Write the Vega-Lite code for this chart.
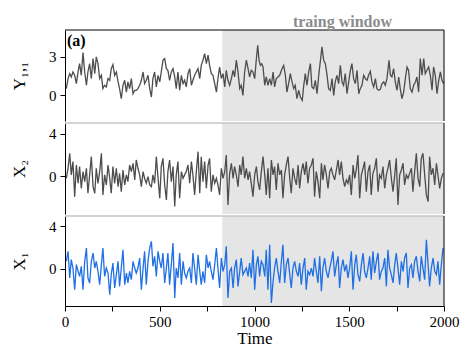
{
"$schema": "https://vega.github.io/schema/vega-lite/v6.json",
"padding": {"left": 10, "top": 13, "right": 5, "bottom": 0},
"spacing": 0,
"config": {
 "view": {"stroke": null},
 "font": "Liberation Serif",
 "axis": {"labelFont": "Liberation Serif", "titleFont": "Liberation Serif", "labelColor": "#000", "titleColor": "#000", "domainColor": "#000", "tickColor": "#000", "grid": false, "labelFontSize": 15, "titleFontSize": 17, "titleFontWeight": "normal", "tickSize": 5, "labelPadding": 4, "titlePadding": 20, "zindex": 1}
},
"datasets": {
 "y11": [
  {"t":7,"v":0.50},{"t":16,"v":1.28},{"t":25,"v":1.67},{"t":33,"v":1.41},{"t":42,"v":1.80},{"t":51,"v":1.54},{"t":60,"v":0.89},{"t":69,"v":1.80},{"t":77,"v":2.45},{"t":86,"v":1.54},{"t":95,"v":3.32},{"t":104,"v":1.80},{"t":113,"v":0.76},{"t":121,"v":1.80},{"t":130,"v":2.45},{"t":139,"v":1.28},{"t":148,"v":2.85},{"t":157,"v":1.67},{"t":165,"v":2.98},{"t":174,"v":2.45},{"t":183,"v":1.28},{"t":192,"v":1.54},{"t":200,"v":0.50},{"t":209,"v":0.76},{"t":218,"v":0.63},{"t":227,"v":1.28},{"t":236,"v":1.15},{"t":244,"v":2.06},{"t":253,"v":2.38},{"t":262,"v":1.54},{"t":271,"v":1.80},{"t":280,"v":1.02},{"t":288,"v":0.50},{"t":297,"v":-0.29},{"t":306,"v":0.76},{"t":315,"v":1.15},{"t":324,"v":0.23},{"t":332,"v":1.02},{"t":341,"v":0.50},{"t":350,"v":1.28},{"t":359,"v":0.10},{"t":368,"v":0.37},{"t":376,"v":0.37},{"t":385,"v":0.50},{"t":394,"v":0.76},{"t":403,"v":1.15},{"t":412,"v":1.80},{"t":420,"v":0.89},{"t":429,"v":1.15},{"t":438,"v":1.54},{"t":447,"v":0.50},{"t":456,"v":-0.16},{"t":464,"v":1.28},{"t":473,"v":1.80},{"t":482,"v":0.63},{"t":491,"v":1.54},{"t":500,"v":1.02},{"t":508,"v":1.80},{"t":517,"v":2.72},{"t":526,"v":2.85},{"t":535,"v":2.06},{"t":543,"v":1.93},{"t":552,"v":1.15},{"t":561,"v":1.80},{"t":570,"v":2.06},{"t":579,"v":1.41},{"t":587,"v":0.50},{"t":596,"v":1.80},{"t":605,"v":0.37},{"t":614,"v":1.54},{"t":623,"v":0.89},{"t":631,"v":1.15},{"t":640,"v":0.63},{"t":649,"v":1.67},{"t":658,"v":2.06},{"t":667,"v":0.76},{"t":675,"v":1.15},{"t":684,"v":1.54},{"t":693,"v":1.80},{"t":702,"v":2.06},{"t":711,"v":1.28},{"t":719,"v":2.32},{"t":728,"v":2.72},{"t":737,"v":3.24},{"t":746,"v":2.45},{"t":755,"v":3.11},{"t":763,"v":2.32},{"t":772,"v":1.67},{"t":781,"v":1.54},{"t":790,"v":0.89},{"t":799,"v":0.23},{"t":807,"v":1.28},{"t":816,"v":2.19},{"t":825,"v":1.28},{"t":834,"v":1.67},{"t":843,"v":0.63},{"t":851,"v":1.93},{"t":860,"v":1.15},{"t":869,"v":0.76},{"t":878,"v":1.28},{"t":887,"v":1.93},{"t":895,"v":1.41},{"t":904,"v":2.72},{"t":913,"v":1.80},{"t":922,"v":0.50},{"t":930,"v":0.76},{"t":939,"v":-0.03},{"t":948,"v":1.80},{"t":957,"v":2.72},{"t":966,"v":2.06},{"t":974,"v":1.41},{"t":983,"v":1.93},
  {"t":992,"v":1.80},{"t":1001,"v":1.28},{"t":1010,"v":2.85},{"t":1017,"v":3.89},{"t":1024,"v":2.72},{"t":1031,"v":2.32},{"t":1038,"v":2.45},{"t":1045,"v":2.19},{"t":1054,"v":0.76},{"t":1062,"v":1.41},{"t":1071,"v":0.76},{"t":1080,"v":1.28},{"t":1089,"v":0.76},{"t":1098,"v":1.80},{"t":1106,"v":0.63},{"t":1115,"v":1.28},{"t":1124,"v":1.41},{"t":1133,"v":1.54},{"t":1142,"v":1.93},{"t":1154,"v":2.32},{"t":1163,"v":1.54},{"t":1171,"v":0.23},{"t":1180,"v":0.89},{"t":1189,"v":1.67},{"t":1198,"v":1.02},{"t":1207,"v":0.50},{"t":1215,"v":0.76},{"t":1224,"v":-0.29},{"t":1233,"v":0.37},{"t":1242,"v":-0.16},{"t":1252,"v":-0.42},{"t":1259,"v":0.63},{"t":1268,"v":1.67},{"t":1277,"v":0.76},{"t":1286,"v":1.80},{"t":1295,"v":2.45},{"t":1303,"v":0.63},{"t":1312,"v":0.50},{"t":1321,"v":1.15},{"t":1330,"v":0.10},{"t":1339,"v":1.54},{"t":1347,"v":2.58},{"t":1356,"v":3.76},{"t":1365,"v":2.72},{"t":1374,"v":2.45},{"t":1383,"v":1.54},{"t":1391,"v":0.50},{"t":1400,"v":0.37},{"t":1409,"v":1.28},{"t":1418,"v":-0.03},{"t":1426,"v":1.02},{"t":1435,"v":1.54},{"t":1444,"v":0.89},{"t":1453,"v":2.32},{"t":1462,"v":1.02},{"t":1470,"v":0.76},{"t":1479,"v":1.67},{"t":1488,"v":0.10},{"t":1497,"v":1.02},{"t":1506,"v":1.93},{"t":1514,"v":2.45},{"t":1523,"v":1.28},{"t":1532,"v":0.89},{"t":1541,"v":1.93},{"t":1550,"v":0.10},{"t":1558,"v":0.50},{"t":1567,"v":0.76},{"t":1576,"v":1.54},{"t":1585,"v":1.28},{"t":1594,"v":1.15},{"t":1602,"v":1.54},{"t":1611,"v":1.85},{"t":1620,"v":1.02},{"t":1629,"v":0.63},{"t":1638,"v":1.28},{"t":1646,"v":0.50},{"t":1655,"v":0.37},{"t":1664,"v":0.44},{"t":1673,"v":0.89},{"t":1682,"v":1.02},{"t":1690,"v":0.76},{"t":1699,"v":1.28},{"t":1710,"v":2.72},{"t":1717,"v":1.54},{"t":1725,"v":1.41},{"t":1734,"v":2.06},{"t":1743,"v":1.02},{"t":1752,"v":0.37},{"t":1761,"v":1.41},{"t":1769,"v":0.50},{"t":1778,"v":-0.29},{"t":1787,"v":0.23},{"t":1796,"v":1.28},{"t":1805,"v":2.19},{"t":1813,"v":1.93},{"t":1822,"v":0.50},{"t":1831,"v":0.23},{"t":1840,"v":0.76},{"t":1849,"v":1.02},{"t":1857,"v":1.41},{"t":1866,"v":0.23},{"t":1875,"v":2.85},{"t":1884,"v":1.54},{"t":1893,"v":2.85},{"t":1901,"v":1.67},{"t":1910,"v":1.93},{"t":1919,"v":2.19},{"t":1928,"v":1.54},{"t":1937,"v":0.37},{"t":1945,"v":2.19},{"t":1954,"v":1.54},{"t":1963,"v":0.10},{"t":1972,"v":1.15},{"t":1981,"v":1.80},{"t":1989,"v":1.15},{"t":1998,"v":0.89}
 ],
 "x2": [
  {"t":7,"v":-0.19},{"t":16,"v":0.75},{"t":25,"v":2.16},{"t":33,"v":0.13},{"t":42,"v":1.38},{"t":51,"v":-1.91},{"t":60,"v":1.06},{"t":69,"v":-0.66},{"t":77,"v":0.91},{"t":86,"v":-1.13},{"t":95,"v":0.44},{"t":104,"v":-0.50},{"t":113,"v":0.75},{"t":121,"v":-1.59},{"t":130,"v":0.13},{"t":139,"v":1.84},{"t":148,"v":-0.97},{"t":157,"v":-1.59},{"t":165,"v":0.75},{"t":174,"v":-0.66},{"t":183,"v":0.44},{"t":192,"v":2.16},{"t":200,"v":-1.75},{"t":209,"v":0.13},{"t":218,"v":-0.81},{"t":227,"v":1.06},{"t":236,"v":-0.19},{"t":244,"v":-1.59},{"t":253,"v":0.91},{"t":262,"v":-0.66},{"t":271,"v":0.75},{"t":280,"v":-0.97},{"t":288,"v":0.28},{"t":297,"v":-1.44},{"t":306,"v":0.59},{"t":315,"v":-0.81},{"t":324,"v":0.13},{"t":332,"v":-0.50},{"t":341,"v":1.06},{"t":350,"v":0.44},{"t":359,"v":1.22},{"t":368,"v":-0.34},{"t":376,"v":1.53},{"t":385,"v":0.75},{"t":394,"v":0.13},{"t":403,"v":-0.97},{"t":412,"v":0.44},{"t":420,"v":-0.19},{"t":429,"v":-0.66},{"t":438,"v":-0.03},{"t":447,"v":-0.81},{"t":456,"v":-0.97},{"t":464,"v":0.13},{"t":473,"v":-0.66},{"t":482,"v":1.84},{"t":491,"v":-0.19},{"t":500,"v":-2.06},{"t":508,"v":0.91},{"t":517,"v":1.69},{"t":526,"v":-0.81},{"t":535,"v":-2.22},{"t":543,"v":0.44},{"t":552,"v":1.53},{"t":561,"v":-0.50},{"t":570,"v":0.91},{"t":579,"v":-2.84},{"t":587,"v":0.13},{"t":596,"v":1.38},{"t":605,"v":-2.06},{"t":614,"v":0.44},{"t":623,"v":-0.19},{"t":631,"v":0.13},{"t":640,"v":0.44},{"t":649,"v":1.06},{"t":658,"v":-0.66},{"t":667,"v":1.38},{"t":675,"v":0.13},{"t":684,"v":-1.75},{"t":693,"v":0.44},{"t":702,"v":2.31},{"t":711,"v":-1.59},{"t":719,"v":1.84},{"t":728,"v":-0.50},{"t":737,"v":1.38},{"t":746,"v":-1.13},{"t":755,"v":1.06},{"t":763,"v":1.69},{"t":772,"v":-1.44},{"t":781,"v":0.13},{"t":790,"v":-0.66},{"t":799,"v":-0.19},{"t":807,"v":-0.81},{"t":816,"v":-1.75},{"t":825,"v":0.75},{"t":834,"v":-0.19},{"t":843,"v":0.44},{"t":851,"v":2.00},{"t":860,"v":-2.69},{"t":869,"v":0.28},{"t":878,"v":1.22},{"t":887,"v":-0.19},{"t":895,"v":0.91},{"t":904,"v":0.13},{"t":913,"v":-0.97},{"t":922,"v":1.06},{"t":930,"v":0.13},{"t":939,"v":1.84},{"t":948,"v":-0.19},{"t":957,"v":0.75},{"t":966,"v":-0.34},{"t":974,"v":0.44},{"t":983,"v":-0.66},
  {"t":992,"v":-1.91},{"t":1001,"v":0.13},{"t":1010,"v":0.91},{"t":1018,"v":-0.50},{"t":1027,"v":-1.28},{"t":1036,"v":0.44},{"t":1045,"v":1.84},{"t":1054,"v":0.13},{"t":1062,"v":-1.75},{"t":1071,"v":0.75},{"t":1080,"v":-2.06},{"t":1089,"v":1.53},{"t":1098,"v":0.13},{"t":1106,"v":0.91},{"t":1115,"v":-1.28},{"t":1124,"v":1.22},{"t":1133,"v":0.13},{"t":1142,"v":0.59},{"t":1150,"v":-2.06},{"t":1159,"v":0.13},{"t":1168,"v":1.06},{"t":1177,"v":1.84},{"t":1186,"v":-0.19},{"t":1194,"v":-1.59},{"t":1203,"v":0.75},{"t":1212,"v":-0.19},{"t":1221,"v":-0.81},{"t":1230,"v":1.06},{"t":1238,"v":-1.13},{"t":1247,"v":0.44},{"t":1256,"v":1.22},{"t":1265,"v":0.13},{"t":1273,"v":1.38},{"t":1282,"v":-0.66},{"t":1291,"v":0.75},{"t":1300,"v":1.06},{"t":1309,"v":1.69},{"t":1317,"v":-1.91},{"t":1326,"v":0.44},{"t":1335,"v":-0.50},{"t":1344,"v":-2.06},{"t":1353,"v":1.22},{"t":1361,"v":-0.34},{"t":1370,"v":1.06},{"t":1379,"v":0.13},{"t":1388,"v":-1.13},{"t":1397,"v":0.44},{"t":1405,"v":0.75},{"t":1414,"v":0.13},{"t":1423,"v":-0.34},{"t":1432,"v":0.59},{"t":1441,"v":1.53},{"t":1449,"v":0.13},{"t":1458,"v":1.38},{"t":1467,"v":-0.19},{"t":1476,"v":-0.97},{"t":1485,"v":-0.34},{"t":1493,"v":-0.66},{"t":1502,"v":0.13},{"t":1511,"v":-1.75},{"t":1520,"v":1.06},{"t":1529,"v":-0.19},{"t":1537,"v":0.59},{"t":1546,"v":2.00},{"t":1555,"v":-2.06},{"t":1564,"v":0.13},{"t":1573,"v":0.75},{"t":1581,"v":1.38},{"t":1590,"v":-1.44},{"t":1599,"v":0.44},{"t":1608,"v":1.06},{"t":1616,"v":-1.75},{"t":1625,"v":0.28},{"t":1634,"v":0.75},{"t":1643,"v":1.69},{"t":1652,"v":-1.44},{"t":1660,"v":0.13},{"t":1669,"v":-0.19},{"t":1678,"v":0.91},{"t":1687,"v":-1.13},{"t":1696,"v":0.13},{"t":1704,"v":0.75},{"t":1713,"v":1.53},{"t":1722,"v":-0.19},{"t":1731,"v":-1.44},{"t":1740,"v":0.13},{"t":1748,"v":1.69},{"t":1757,"v":-2.69},{"t":1766,"v":0.13},{"t":1775,"v":0.59},{"t":1784,"v":1.22},{"t":1792,"v":-0.81},{"t":1801,"v":0.13},{"t":1810,"v":-0.19},{"t":1819,"v":0.28},{"t":1828,"v":0.75},{"t":1836,"v":-1.44},{"t":1845,"v":0.44},{"t":1854,"v":2.16},{"t":1863,"v":-0.19},{"t":1872,"v":-0.97},{"t":1880,"v":1.69},{"t":1889,"v":2.16},{"t":1898,"v":0.13},{"t":1907,"v":-1.75},{"t":1916,"v":-2.38},{"t":1924,"v":1.84},{"t":1933,"v":0.13},{"t":1942,"v":0.75},{"t":1951,"v":-0.81},{"t":1960,"v":1.22},{"t":1968,"v":0.13},{"t":1977,"v":-1.13},{"t":1986,"v":-0.19},{"t":1995,"v":0.28}
 ],
 "x1": [
  {"t":7,"v":0.72},{"t":16,"v":1.66},{"t":25,"v":-0.84},{"t":33,"v":0.88},{"t":42,"v":0.09},{"t":51,"v":-1.94},{"t":60,"v":0.41},{"t":69,"v":-0.22},{"t":77,"v":-0.69},{"t":86,"v":0.25},{"t":95,"v":-1.94},{"t":104,"v":0.72},{"t":113,"v":1.97},{"t":121,"v":-0.84},{"t":130,"v":-1.31},{"t":139,"v":0.72},{"t":148,"v":1.50},{"t":157,"v":0.09},{"t":165,"v":0.72},{"t":174,"v":-0.22},{"t":183,"v":-1.47},{"t":192,"v":0.41},{"t":200,"v":1.97},{"t":209,"v":-0.69},{"t":218,"v":0.09},{"t":227,"v":-0.38},{"t":236,"v":-2.41},{"t":244,"v":-0.53},{"t":253,"v":0.56},{"t":262,"v":-1.78},{"t":271,"v":-0.53},{"t":280,"v":0.72},{"t":288,"v":-1.63},{"t":297,"v":0.09},{"t":306,"v":1.81},{"t":315,"v":-1.47},{"t":324,"v":-0.38},{"t":332,"v":-1.31},{"t":341,"v":-0.22},{"t":350,"v":-1.00},{"t":359,"v":0.72},{"t":368,"v":0.09},{"t":376,"v":-0.38},{"t":385,"v":0.09},{"t":394,"v":1.03},{"t":403,"v":-1.94},{"t":412,"v":0.09},{"t":420,"v":1.66},{"t":429,"v":-1.47},{"t":438,"v":0.72},{"t":447,"v":1.97},{"t":456,"v":2.59},{"t":464,"v":0.25},{"t":473,"v":1.19},{"t":482,"v":-0.69},{"t":491,"v":1.66},{"t":500,"v":0.72},{"t":508,"v":0.09},{"t":517,"v":1.50},{"t":526,"v":-1.31},{"t":535,"v":0.09},{"t":543,"v":1.50},{"t":552,"v":-1.47},{"t":561,"v":0.41},{"t":570,"v":2.44},{"t":579,"v":-2.72},{"t":587,"v":0.09},{"t":596,"v":-0.84},{"t":605,"v":1.50},{"t":614,"v":-1.47},{"t":623,"v":0.72},{"t":631,"v":-0.38},{"t":640,"v":-0.84},{"t":649,"v":-0.22},{"t":658,"v":0.09},{"t":667,"v":-1.31},{"t":675,"v":1.50},{"t":684,"v":0.09},{"t":693,"v":-1.47},{"t":702,"v":1.34},{"t":711,"v":-0.22},{"t":719,"v":-1.47},{"t":728,"v":-0.22},{"t":737,"v":-1.31},{"t":746,"v":1.34},{"t":755,"v":0.09},{"t":763,"v":0.72},{"t":772,"v":-0.22},{"t":781,"v":-1.00},{"t":790,"v":0.41},{"t":799,"v":1.97},{"t":807,"v":0.09},{"t":816,"v":-1.78},{"t":825,"v":1.03},{"t":834,"v":-0.22},{"t":843,"v":0.41},{"t":851,"v":2.13},{"t":860,"v":-2.72},{"t":869,"v":-0.22},{"t":878,"v":0.09},{"t":887,"v":-1.78},{"t":895,"v":0.09},{"t":904,"v":0.88},{"t":913,"v":-1.63},{"t":922,"v":-0.22},{"t":930,"v":1.03},{"t":939,"v":-0.53},{"t":948,"v":-0.22},{"t":957,"v":0.09},{"t":966,"v":-0.69},{"t":974,"v":0.56},{"t":983,"v":-0.84},
  {"t":992,"v":1.81},{"t":1001,"v":-1.94},{"t":1010,"v":0.41},{"t":1018,"v":1.19},{"t":1027,"v":-0.69},{"t":1036,"v":0.72},{"t":1045,"v":0.41},{"t":1054,"v":-0.69},{"t":1062,"v":1.81},{"t":1071,"v":-1.94},{"t":1080,"v":2.28},{"t":1089,"v":-3.19},{"t":1098,"v":-1.16},{"t":1106,"v":0.09},{"t":1115,"v":1.03},{"t":1124,"v":-0.22},{"t":1133,"v":-1.31},{"t":1142,"v":0.72},{"t":1150,"v":2.28},{"t":1159,"v":-1.31},{"t":1168,"v":0.41},{"t":1177,"v":1.03},{"t":1186,"v":-0.53},{"t":1194,"v":-1.78},{"t":1203,"v":0.09},{"t":1212,"v":0.72},{"t":1221,"v":-0.22},{"t":1230,"v":-0.69},{"t":1238,"v":0.56},{"t":1247,"v":-1.47},{"t":1256,"v":0.09},{"t":1265,"v":1.03},{"t":1273,"v":-1.94},{"t":1282,"v":-0.22},{"t":1291,"v":-0.53},{"t":1300,"v":0.09},{"t":1309,"v":-0.69},{"t":1317,"v":1.03},{"t":1326,"v":-0.22},{"t":1335,"v":-1.31},{"t":1344,"v":1.19},{"t":1353,"v":-2.09},{"t":1361,"v":0.09},{"t":1370,"v":1.03},{"t":1379,"v":-0.22},{"t":1388,"v":-0.84},{"t":1397,"v":0.09},{"t":1405,"v":0.72},{"t":1414,"v":1.66},{"t":1423,"v":-0.69},{"t":1432,"v":0.41},{"t":1441,"v":1.19},{"t":1449,"v":-1.78},{"t":1458,"v":0.09},{"t":1467,"v":0.88},{"t":1476,"v":-0.22},{"t":1485,"v":0.41},{"t":1493,"v":-0.84},{"t":1502,"v":0.09},{"t":1511,"v":1.66},{"t":1520,"v":-1.94},{"t":1529,"v":0.41},{"t":1537,"v":1.34},{"t":1546,"v":-0.53},{"t":1555,"v":-1.16},{"t":1564,"v":0.41},{"t":1573,"v":1.50},{"t":1581,"v":-0.22},{"t":1590,"v":-0.84},{"t":1599,"v":0.09},{"t":1608,"v":1.19},{"t":1616,"v":-1.00},{"t":1625,"v":1.66},{"t":1634,"v":-0.38},{"t":1643,"v":0.72},{"t":1652,"v":1.50},{"t":1660,"v":-1.00},{"t":1669,"v":-0.22},{"t":1678,"v":0.09},{"t":1687,"v":1.03},{"t":1696,"v":-1.63},{"t":1704,"v":1.81},{"t":1713,"v":0.09},{"t":1722,"v":-0.53},{"t":1731,"v":-1.31},{"t":1740,"v":0.41},{"t":1748,"v":1.50},{"t":1757,"v":0.09},{"t":1766,"v":-1.47},{"t":1775,"v":0.72},{"t":1784,"v":-0.22},{"t":1792,"v":1.03},{"t":1801,"v":1.50},{"t":1810,"v":-1.78},{"t":1819,"v":0.09},{"t":1828,"v":0.41},{"t":1836,"v":-0.84},{"t":1845,"v":0.72},{"t":1854,"v":1.19},{"t":1863,"v":-0.22},{"t":1872,"v":-1.16},{"t":1880,"v":1.19},{"t":1889,"v":0.09},{"t":1898,"v":-1.00},{"t":1907,"v":2.75},{"t":1916,"v":0.41},{"t":1924,"v":-1.63},{"t":1933,"v":0.09},{"t":1942,"v":1.03},{"t":1951,"v":-0.22},{"t":1960,"v":-0.53},{"t":1968,"v":0.72},{"t":1977,"v":-1.47},{"t":1986,"v":0.41},{"t":1995,"v":1.97}
 ]
},
"vconcat": [
 {
  "width": 379, "height": 91,
  "title": {"text": "traing window", "anchor": "middle", "dx": 88, "color": "#8c8c8c", "font": "Liberation Serif", "fontSize": 16, "fontWeight": "bold", "offset": 0},
  "layer": [
   {"data": {"values": [{}]}, "mark": {"type": "rect", "color": "#e5e5e5"},
    "encoding": {"x": {"datum": 830, "type": "quantitative", "scale": {"domain": [0, 2000], "nice": false}, "axis": null}, "x2": {"datum": 2000}}},
   {"data": {"name": "y11"}, "mark": {"type": "line", "color": "#4d4d4d", "strokeWidth": 1.3},
    "encoding": {"x": {"field": "t", "type": "quantitative", "scale": {"domain": [0, 2000], "nice": false}, "axis": null},
     "y": {"field": "v", "type": "quantitative", "scale": {"domain": [-2.03, 5.08], "nice": false, "zero": false}, "axis": {"values": [0, 3], "title": "Y₁,₁"}}}},
   {"data": {"values": [{}]}, "mark": {"type": "rule", "color": "#000", "strokeWidth": 1},
    "encoding": {"y": {"datum": 5.08, "type": "quantitative"}}},
   {"data": {"values": [{}]}, "mark": {"type": "rule", "color": "#000", "strokeWidth": 1},
    "encoding": {"x": {"datum": 2000, "type": "quantitative", "axis": null}}},
   {"data": {"values": [{}]}, "mark": {"type": "text", "text": "(a)", "align": "left", "baseline": "top", "dx": 2, "dy": 3, "font": "Liberation Serif", "fontSize": 16, "fontWeight": "bold", "color": "#000"},
    "encoding": {"x": {"datum": 0, "type": "quantitative", "axis": null}, "y": {"datum": 5.08, "type": "quantitative"}}}
  ]
 },
 {
  "width": 379, "height": 91,
  "layer": [
   {"data": {"values": [{}]}, "mark": {"type": "rect", "color": "#e5e5e5"},
    "encoding": {"x": {"datum": 830, "type": "quantitative", "scale": {"domain": [0, 2000], "nice": false}, "axis": null}, "x2": {"datum": 2000}}},
   {"data": {"name": "x2"}, "mark": {"type": "line", "color": "#4d4d4d", "strokeWidth": 1.3},
    "encoding": {"x": {"field": "t", "type": "quantitative", "scale": {"domain": [0, 2000], "nice": false}, "axis": null},
     "y": {"field": "v", "type": "quantitative", "scale": {"domain": [-3.54, 5.0], "nice": false, "zero": false}, "axis": {"values": [0, 4], "title": "X₂"}}}},
   {"data": {"values": [{}]}, "mark": {"type": "rule", "color": "#c6c6c6", "strokeWidth": 1.5},
    "encoding": {"y": {"datum": 5.0, "type": "quantitative"}}},
   {"data": {"values": [{}]}, "mark": {"type": "rule", "color": "#000", "strokeWidth": 1},
    "encoding": {"x": {"datum": 2000, "type": "quantitative", "axis": null}}}
  ]
 },
 {
  "width": 379, "height": 90,
  "layer": [
   {"data": {"values": [{}]}, "mark": {"type": "rect", "color": "#e5e5e5"},
    "encoding": {"x": {"datum": 830, "type": "quantitative", "scale": {"domain": [0, 2000], "nice": false}}, "x2": {"datum": 2000}}},
   {"data": {"name": "x1"}, "mark": {"type": "line", "color": "#1f6fe5", "strokeWidth": 1.3},
    "encoding": {"x": {"field": "t", "type": "quantitative", "scale": {"domain": [0, 2000], "nice": false},
      "axis": {"values": [0, 250, 500, 750, 1000, 1250, 1500, 1750, 2000], "labelExpr": "datum.value % 500 === 0 ? datum.label : ''", "format": "d", "title": "Time", "labelFontSize": 15, "titleFontSize": 17, "titlePadding": 1, "labelPadding": 3, "labelFlush": false, "labelOverlap": false}},
     "y": {"field": "v", "type": "quantitative", "scale": {"domain": [-3.47, 4.97], "nice": false, "zero": false}, "axis": {"values": [0, 4], "title": "X₁"}}}},
   {"data": {"values": [{}]}, "mark": {"type": "rule", "color": "#c6c6c6", "strokeWidth": 1.5},
    "encoding": {"y": {"datum": 4.97, "type": "quantitative"}}},
   {"data": {"values": [{}]}, "mark": {"type": "rule", "color": "#000", "strokeWidth": 1},
    "encoding": {"x": {"datum": 2000, "type": "quantitative"}}}
  ]
 }
]
}
